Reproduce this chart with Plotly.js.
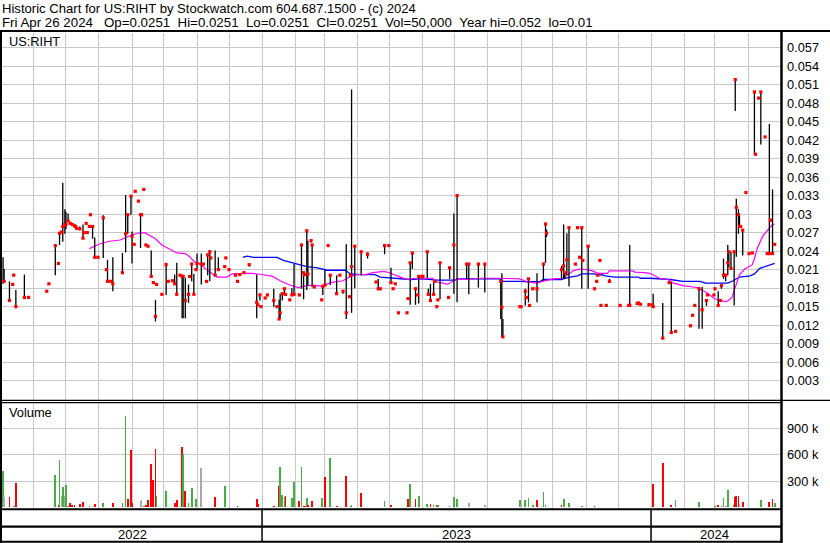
<!DOCTYPE html>
<html><head><meta charset="utf-8">
<script src="https://cdn.plot.ly/plotly-3.0.1.min.js"></script>
<style>html,body{margin:0;padding:0;background:#fff}#chart{width:830px;height:543px}</style>
</head><body><div id="chart"></div>
<script>
// ---- daily data (price in dollars, volume in thousands of shares) ----
const dates=['2022-05-03','2022-05-04','2022-05-09','2022-05-12','2022-05-13','2022-05-15','2022-05-23','2022-05-27','2022-06-13','2022-06-15',
'2022-06-21','2022-06-24','2022-06-25','2022-06-27','2022-06-28','2022-06-30','2022-07-01','2022-07-03','2022-07-05','2022-07-07',
'2022-07-09','2022-07-10','2022-07-11','2022-07-14','2022-07-17','2022-07-18','2022-07-20','2022-07-21','2022-07-23','2022-07-24',
'2022-07-26','2022-07-28','2022-07-31','2022-08-05','2022-08-08','2022-08-09','2022-08-12','2022-08-14','2022-08-23','2022-08-26',
'2022-08-28','2022-08-31','2022-09-01','2022-09-03','2022-09-04','2022-09-07','2022-09-09','2022-09-10','2022-09-12','2022-09-14',
'2022-09-16','2022-09-19','2022-09-21','2022-09-23','2022-09-24','2022-09-29','2022-10-03','2022-10-05','2022-10-09','2022-10-11',
'2022-10-13','2022-10-16','2022-10-18','2022-10-19','2022-10-21','2022-10-24','2022-10-25','2022-10-27','2022-10-29','2022-10-31',
'2022-11-01','2022-11-05','2022-11-07','2022-11-10','2022-11-11','2022-11-13','2022-11-14','2022-11-18','2022-11-21','2022-11-27',
'2022-11-28','2022-12-01','2022-12-07','2022-12-09','2022-12-11','2022-12-15','2022-12-20','2022-12-27','2022-12-28','2022-12-30',
'2022-12-31','2023-01-04','2023-01-06','2023-01-12','2023-01-15','2023-01-17','2023-01-18','2023-01-20','2023-01-22','2023-01-23',
'2023-01-27','2023-01-29','2023-01-31','2023-02-05','2023-02-07','2023-02-09','2023-02-10','2023-02-12','2023-02-13','2023-02-16',
'2023-02-17','2023-02-19','2023-02-26','2023-02-27','2023-03-01','2023-03-04','2023-03-06','2023-03-12','2023-03-15','2023-03-18',
'2023-03-21','2023-03-24','2023-03-25','2023-03-26','2023-03-29','2023-04-04','2023-04-10','2023-04-18','2023-04-20','2023-04-22',
'2023-04-26','2023-04-30','2023-05-02','2023-05-04','2023-05-06','2023-05-09','2023-05-17','2023-05-18','2023-05-20','2023-05-22',
'2023-05-25','2023-05-27','2023-05-28','2023-05-31','2023-06-01','2023-06-05','2023-06-06','2023-06-08','2023-06-11','2023-06-12',
'2023-06-14','2023-06-15','2023-06-17','2023-06-25','2023-06-26','2023-06-30','2023-07-03','2023-07-12','2023-07-14','2023-07-23',
'2023-07-29','2023-08-13','2023-08-14','2023-08-15','2023-08-31','2023-09-01','2023-09-05','2023-09-06','2023-09-08','2023-09-09',
'2023-09-12','2023-09-16','2023-09-22','2023-09-24','2023-09-25','2023-10-09','2023-10-11','2023-10-12','2023-10-14','2023-10-16',
'2023-10-22','2023-10-24','2023-10-26','2023-10-28','2023-10-29','2023-11-03','2023-11-09','2023-11-11','2023-11-12','2023-11-14',
'2023-11-15','2023-11-20','2023-11-23','2023-12-03','2023-12-11','2023-12-12','2023-12-19','2023-12-20','2023-12-22','2023-12-30',
'2024-01-02','2024-01-03','2024-01-12','2024-01-18','2024-01-20','2024-01-24','2024-02-07','2024-02-09','2024-02-11','2024-02-15',
'2024-02-18','2024-02-22','2024-02-23','2024-02-29','2024-03-01','2024-03-04','2024-03-06','2024-03-07','2024-03-09','2024-03-11',
'2024-03-13','2024-03-14','2024-03-16','2024-03-19','2024-03-20','2024-03-21','2024-03-23','2024-03-24','2024-03-25','2024-03-27',
'2024-03-30','2024-04-02','2024-04-05','2024-04-07','2024-04-08','2024-04-11','2024-04-13','2024-04-17','2024-04-19','2024-04-21',
'2024-04-22','2024-04-24','2024-04-26'];

const hi=[.0230,.0211,.0191,null,null,.0177,.0202,null,null,null,
.0250,null,.0271,null,.0351,.0308,.0304,.0301,null,null,
null,null,.0280,.0280,.0283,null,null,null,null,null,
.0280,.0262,null,.0298,null,.0226,null,.0230,.0237,.0331,
.0299,.0331,.0272,null,null,null,.0300,null,null,null,
.0250,.0241,.0191,.0161,null,null,.0221,null,null,.0202,
.0221,null,.0202,.0201,.0197,.0186,null,.0221,.0203,null,
.0236,.0236,null,null,.0234,.0241,null,.0241,.0230,null,
null,null,null,null,null,null,.0219,.0202,null,.0171,
null,null,null,.0179,null,.0161,.0171,.0171,.0179,null,
null,.0180,.0219,null,.0250,.0206,null,.0274,.0257,.0259,
.0251,null,null,.0184,.0210,null,.0201,.0201,null,.0175,
.0251,null,null,.0502,.0248,.0240,.0238,null,.0195,null,
.0249,null,.0213,.0180,null,null,null,null,.0222,.0238,
.0180,null,.0201,null,null,.0239,.0179,.0187,.0191,null,
.0152,null,.0221,null,.0213,.0301,.0330,.0219,.0220,.0220,
.0220,.0191,.0204,.0130,null,null,.0179,null,.0195,null,
null,.0204,.0221,.0285,.0275,.0216,.0283,.0205,.0269,.0278,
null,null,null,.0278,null,.0248,null,null,null,null,
null,null,.0195,null,null,.0250,null,null,null,.0156,
null,.0171,.0156,null,.0190,null,null,null,null,.0182,
.0182,.0160,null,null,null,.0175,null,.0184,.0228,.0202,
.0250,.0239,.0239,.0239,.0518,.0325,.0308,.0297,null,.0274,
null,null,null,.0498,null,null,.0498,null,null,.0446,
null,.0340,null];

const lo=[.0187,.0190,.0160,null,null,.0150,.0165,null,null,null,
.0201,null,.0250,null,.0255,.0268,.0276,.0289,null,null,
null,null,.0275,.0275,.0260,null,null,null,null,null,
.0260,.0229,null,.0229,null,.0190,null,.0175,.0205,.0238,
.0268,.0299,.0220,null,null,null,.0245,null,null,null,
.0246,.0199,.0187,.0126,null,null,.0169,null,null,.0187,
.0170,null,.0131,.0131,.0131,.0156,null,.0191,.0170,null,
.0211,.0186,null,null,.0201,.0191,null,.0201,.0210,null,
null,null,null,null,null,null,.0215,.0131,null,.0160,
null,null,null,.0150,null,.0130,.0131,.0160,.0169,null,
null,.0169,.0169,null,.0179,.0162,null,.0177,.0184,.0254,
.0182,null,null,.0169,.0184,null,.0185,.0171,null,.0171,
.0130,null,null,.0140,.0180,.0201,.0228,null,.0179,null,
.0235,null,.0187,.0178,null,null,null,null,.0153,.0211,
.0153,null,.0155,null,null,.0196,.0168,.0160,.0169,null,
.0149,null,.0162,null,.0195,.0171,.0157,.0195,.0170,.0181,
.0173,.0130,.0101,.0101,null,null,.0152,null,.0157,null,
null,.0157,.0192,.0221,.0263,.0195,.0195,.0195,.0201,.0183,
null,null,null,.0179,null,.0179,null,null,null,null,
null,null,.0189,null,null,.0152,null,null,null,.0152,
null,.0150,.0099,null,.0108,null,null,null,null,.0114,
.0114,.0151,null,null,null,.0152,null,.0179,.0195,.0191,
.0201,.0214,.0211,.0152,.0467,.0231,.0268,.0280,null,.0233,
null,null,null,.0397,null,null,.0413,null,null,.0236,
null,.0236,null];

const cl=[null,.0191,.0160,.0186,.0201,.0150,.0165,.0165,.0175,.0187,
.0249,.0220,.0269,.0271,.0280,.0283,.0283,.0289,.0285,.0283,
.0281,.0280,.0277,.0276,.0261,.0270,.0285,.0270,.0280,.0299,
.0280,.0230,.0230,.0294,.0210,.0191,.0191,.0187,.0205,.0268,
.0299,.0329,.0264,.0251,.0337,.0321,.0299,.0299,.0340,.0250,
.0248,.0199,.0189,.0134,.0186,.0170,.0218,.0191,.0192,.0187,
.0170,.0201,.0199,.0199,.0160,.0170,.0199,.0219,.0170,.0210,
.0220,.0219,.0219,.0191,.0234,.0239,.0229,.0201,.0210,.0215,
.0229,.0210,.0201,.0191,.0202,.0205,.0218,.0157,.0153,.0169,
.0150,.0164,.0169,.0160,.0150,.0130,.0140,.0171,.0179,.0170,
.0161,.0169,.0170,.0169,.0250,.0205,.0202,.0273,.0203,.0257,
.0250,.0182,.0161,.0183,.0185,.0249,.0201,.0171,.0201,.0175,
.0140,.0166,.0201,.0215,.0248,.0239,.0235,.0190,.0179,.0179,
.0249,.0249,.0189,.0179,.0187,.0140,.0140,.0163,.0221,.0237,
.0179,.0169,.0199,.0199,.0199,.0239,.0170,.0160,.0170,.0191,
.0150,.0161,.0221,.0165,.0213,.0250,.0330,.0219,.0219,.0219,
.0219,.0191,.0149,.0101,.0150,.0150,.0175,.0165,.0195,.0152,
.0179,.0179,.0219,.0284,.0269,.0210,.0216,.0205,.0226,.0278,
.0219,.0278,.0230,.0278,.0225,.0248,.0179,.0191,.0201,.0225,
.0152,.0152,.0191,.0152,.0152,.0152,.0155,.0156,.0154,.0153,
.0153,.0150,.0099,.0189,.0108,.0110,.0119,.0136,.0152,.0179,
.0145,.0160,.0169,.0169,.0179,.0152,.0160,.0184,.0201,.0201,
.0221,.0239,.0212,.0239,.0518,.0311,.0299,.0280,.0280,.0274,
.0335,.0236,.0237,.0498,.0397,.0488,.0498,.0425,.0236,.0236,
.0290,.0236,.0251];

const volK=[410,116,116,4,10,277,5,4,6,6,
369,30,537,135,227,128,250,20,48,25,
25,8,8,36,63,8,8,8,20,8,
8,36,8,55,8,8,8,55,55,1050,
90,659,48,8,8,8,67,78,10,32,
78,500,315,663,135,8,181,8,8,48,
78,8,689,605,181,48,8,220,8,100,
8,445,8,8,8,8,8,116,8,239,
8,8,8,10,6,6,6,97,40,6,
6,6,6,20,6,240,458,141,115,134,
6,103,286,76,458,10,10,103,30,6,
69,6,103,6,344,6,561,10,4,4,
363,6,20,30,8,160,4,4,4,4,
76,4,32,4,4,4,4,90,269,4,
97,4,135,4,4,40,8,40,32,8,
32,32,8,4,10,113,90,4,48,4,
21,4,4,4,78,21,86,6,109,6,
32,78,170,29,4,21,97,8,6,55,
6,6,6,10,4,4,10,6,4,4,
4,4,4,4,4,4,4,4,4,4,
4,269,506,4,29,78,4,6,4,59,
4,6,6,6,10,21,8,10,105,10,
193,8,8,30,116,135,135,40,8,59,
8,8,8,8,8,8,78,8,8,59,
8,90,50];

// day direction as shown by volume colour: 1 up, -1 down, 0 unchanged
const dir=[1,0,-1,1,1,-1,1,0,1,1,
1,-1,1,0,1,0,1,1,-1,-1,
-1,-1,-1,-1,-1,1,1,-1,1,1,
-1,-1,0,1,-1,-1,0,-1,1,1,
-1,-1,-1,-1,1,-1,0,0,1,-1,
-1,-1,-1,-1,1,0,1,-1,-1,-1,
-1,1,-1,1,-1,1,1,1,-1,1,
1,0,0,-1,1,1,-1,-1,1,1,
1,0,-1,-1,1,1,1,-1,-1,-1,
-1,1,1,-1,-1,-1,1,1,1,-1,
-1,1,1,-1,1,-1,-1,1,-1,1,
-1,-1,1,1,-1,1,1,-1,1,-1,
-1,1,1,1,1,-1,-1,-1,-1,0,
1,0,-1,1,1,-1,1,-1,1,1,
-1,-1,1,-1,-1,1,-1,-1,1,-1,
-1,1,1,-1,1,1,1,-1,0,0,
0,-1,-1,-1,1,0,1,-1,1,-1,
1,-1,1,1,-1,-1,1,-1,1,1,
-1,1,-1,1,-1,1,-1,1,-1,-1,
-1,0,1,-1,0,0,1,1,-1,1,
0,-1,-1,1,-1,1,1,1,1,1,
-1,1,1,1,1,-1,1,1,1,0,
1,1,-1,1,-1,-1,-1,0,0,-1,
1,-1,1,1,-1,1,1,-1,-1,-1,
1,-1,1];

// moving averages
const maFastDates=['2022-07-23','2022-07-28','2022-08-02','2022-08-11','2022-08-21','2022-08-30','2022-09-06','2022-09-13','2022-09-18','2022-09-23',
'2022-09-29','2022-10-07','2022-10-13','2022-10-21','2022-10-25','2022-10-30','2022-11-04','2022-11-10','2022-11-16','2022-11-20',
'2022-11-29','2022-12-04','2022-12-14','2022-12-23','2022-12-30','2023-01-11','2023-01-18','2023-01-27','2023-02-04','2023-02-12',
'2023-02-18','2023-02-27','2023-03-06','2023-03-18','2023-03-25','2023-03-31','2023-04-08','2023-04-15','2023-04-25','2023-05-01',
'2023-05-06','2023-05-10','2023-05-15','2023-05-20','2023-05-23','2023-05-29','2023-06-05','2023-06-10','2023-06-14','2023-06-20',
'2023-06-24','2023-06-29','2023-07-03','2023-07-12','2023-07-26','2023-08-12','2023-08-31','2023-09-07','2023-09-16','2023-09-21',
'2023-10-01','2023-10-10','2023-10-14','2023-10-20','2023-10-26','2023-11-02','2023-11-07','2023-11-12','2023-11-21','2023-11-23',
'2023-12-15','2023-12-17','2023-12-26','2023-12-31','2024-01-09','2024-01-17','2024-01-22','2024-01-31','2024-02-13','2024-02-22',
'2024-02-28','2024-03-04','2024-03-12','2024-03-17','2024-03-19','2024-03-22','2024-03-24','2024-03-29','2024-04-05','2024-04-07',
'2024-04-10','2024-04-15','2024-04-20','2024-04-24','2024-04-26'];
const maFast=[.0244,.0248,.0252,.0256,.0258,.0265,.0269,.0270,.0265,.0260,
.0250,.0242,.0237,.0236,.0231,.0222,.0219,.0210,.0202,.0198,
.0198,.0203,.0204,.0204,.02025,.0199,.0192,.0185,.0181,.0184,
.0185,.0183,.0189,.0192,.0199,.0202,.0202,.0205,.0207,.0205,
.0201,.0198,.0195,.0194,.0196,.0194,.0196,.0196,.0190,.0188,
.0186,.0191,.0195,.0194,.0196,.0196,.0195,.0190,.0188,.0191,
.0195,.0196,.0201,.0208,.0211,.0210,.0208,.0204,.0204,.0208,
.0208,.0206,.0205,.0204,.0196,.0194,.0188,.0184,.0181,.0173,
.0165,.0160,.0158,.0165,.0176,.0190,.0202,.0211,.0218,.0228,
.0246,.0265,.0276,.0283,.0284];
const maSlowDates=['2022-12-14','2022-12-18','2022-12-24','2022-12-30','2023-01-15','2023-01-21','2023-01-30','2023-02-12','2023-02-22','2023-03-03',
'2023-03-20','2023-03-25','2023-04-03','2023-04-17','2023-04-22','2023-05-01','2023-05-20','2023-06-01','2023-06-14','2023-07-01',
'2023-07-03','2023-08-12','2023-08-15','2023-08-31','2023-09-07','2023-09-19','2023-09-22','2023-10-09','2023-10-12','2023-10-17',
'2023-10-24','2023-10-28','2023-11-09','2023-11-12','2023-11-16','2023-11-19','2023-11-28','2023-12-20','2023-12-22','2023-12-31',
'2024-01-19','2024-01-31','2024-02-16','2024-02-21','2024-03-13','2024-03-18','2024-03-24','2024-04-03','2024-04-07','2024-04-12',
'2024-04-19','2024-04-24','2024-04-26'];
const maSlow=[.0230,.0232,.0230,.0230,.0230,.0225,.0221,.0215,.0213,.0209,
.0209,.0203,.0202,.0202,.0198,.01965,.0194,.0195,.0193,.0193,
.0195,.0195,.0191,.0191,.0190,.0191,.0194,.0194,.0196,.0198,
.0200,.0203,.0203,.0201,.0202,.0200,.0198,.0198,.0196,.0196,
.0194,.0191,.0191,.0188,.0188,.0192,.0198,.0200,.0203,.0212,
.0216,.0219,.0220];

const priceTicks=[0.003,0.006,0.009,0.012,0.015,0.018,0.021,0.024,0.027,0.030,0.033,0.036,0.039,0.042,0.045,0.048,0.051,0.054,0.057];
const priceTickText=['0.003','0.006','0.009','0.012','0.015','0.018','0.021','0.024','0.027','0.03','0.033','0.036','0.039','0.042','0.045','0.048','0.051','0.054','0.057'];
const volTicks=[300,600,900];
const volTickText=['300 k','600 k','900 k'];
const years=['2022','2023','2024'];
const header1='Historic Chart for US:RIHT by Stockwatch.com 604.687.1500 - (c) 2024';
const header2='Fri Apr 26 2024\u00a0\u00a0\u00a0Op=0.0251\u00a0\u00a0Hi=0.0251\u00a0\u00a0Lo=0.0251\u00a0\u00a0Cl=0.0251\u00a0\u00a0Vol=50,000\u00a0\u00a0Year hi=0.052\u00a0\u00a0lo=0.01';
const symbolLabel='US:RIHT';
const volumeLabel='Volume';
const xStart='2022-05-02', xEnd='2024-05-01';

// ---- geometry helpers (pixel -> paper) ----
const W=830,H=543;
const px=x=>x/W, py=y=>1-y/H;
const FONT='"Liberation Sans", Arial, sans-serif';
const GRID='#c8c8c8';

// high-low bars
const bx=[],by=[];
dates.forEach((d,i)=>{ if(hi[i]!=null){ bx.push(d,d,null); by.push(hi[i],lo[i],null);} });

const colorMap={'1':'#44b044','-1':'#ff0000','0':'#a8a8a8'};
const volColors=dir.map(v=>colorMap[String(v)]);

const traces=[
 {type:'scatter',mode:'lines',x:maSlowDates,y:maSlow,line:{color:'#0000ff',width:1.3},xaxis:'x',yaxis:'y',hoverinfo:'skip'},
 {type:'scatter',mode:'lines',x:maFastDates,y:maFast,line:{color:'#ff00ff',width:1.2},xaxis:'x',yaxis:'y',hoverinfo:'skip'},
 {type:'scatter',mode:'lines',x:bx,y:by,line:{color:'#000000',width:1.3},connectgaps:false,xaxis:'x',yaxis:'y',hoverinfo:'skip'},
 {type:'scatter',mode:'markers',x:dates,y:cl,marker:{symbol:'square',size:3.2,color:'#ff0000',line:{width:0}},xaxis:'x',yaxis:'y',hoverinfo:'skip'},
 {type:'bar',x:dates,y:volK,marker:{color:volColors,line:{width:0}},width:86400000*1.6,xaxis:'x2',yaxis:'y2',hoverinfo:'skip'}
];

const t0=new Date(xStart+'T00:00:00Z').getTime(), t1=new Date(xEnd+'T00:00:00Z').getTime();
const annotations=[
 {text:header1,x:px(0),y:py(8.5),xref:'paper',yref:'paper',xanchor:'left',yanchor:'middle',showarrow:false,font:{family:FONT,size:13.1,color:'#000'}},
 {text:header2,x:px(0),y:py(22.5),xref:'paper',yref:'paper',xanchor:'left',yanchor:'middle',showarrow:false,font:{family:FONT,size:13.3,color:'#000'}},
 {text:symbolLabel,x:px(7),y:py(41),xref:'paper',yref:'paper',xanchor:'left',yanchor:'middle',showarrow:false,font:{family:FONT,size:12.8,color:'#000'}},
 {text:volumeLabel,x:px(7),y:py(413),xref:'paper',yref:'paper',xanchor:'left',yanchor:'middle',showarrow:false,font:{family:FONT,size:12.8,color:'#000'}}
];

const shapes=[
 {type:'line',xref:'paper',yref:'paper',x0:0,x1:1,y0:py(31),y1:py(31),line:{color:'#000',width:2}},
 {type:'line',xref:'paper',yref:'paper',x0:px(1),x1:px(1),y0:py(31),y1:0,line:{color:'#000',width:2}},
 {type:'line',xref:'paper',yref:'paper',x0:px(781.5),x1:px(781.5),y0:py(31),y1:0,line:{color:'#000',width:2.5}},
 {type:'line',xref:'paper',yref:'paper',x0:0,x1:1,y0:py(400.3),y1:py(400.3),line:{color:'#000',width:1.2}},
 {type:'line',xref:'paper',yref:'paper',x0:0,x1:px(781),y0:py(402.6),y1:py(402.6),line:{color:'#000',width:1.2}},
 {type:'line',xref:'paper',yref:'paper',x0:0,x1:px(781),y0:py(509.3),y1:py(509.3),line:{color:'#000',width:2}},
 {type:'line',xref:'paper',yref:'paper',x0:0,x1:px(781),y0:py(526.7),y1:py(526.7),line:{color:'#000',width:2.2}},
 {type:'line',xref:'paper',yref:'paper',x0:0,x1:px(781),y0:py(541.8),y1:py(541.8),line:{color:'#000',width:2}}
];
years.forEach(y=>{
 const a=Math.max(t0,Date.UTC(+y,0,1)), b=Math.min(t1,Date.UTC(+y+1,0,1));
 if(Date.UTC(+y,0,1)>t0) shapes.push({type:'line',xref:'x',yref:'paper',x0:y+'-01-01',x1:y+'-01-01',y0:py(509),y1:py(542),line:{color:'#000',width:1.5}});
 annotations.push({text:y,x:new Date((a+b)/2).toISOString().slice(0,10),xref:'x',y:py(534.5),yref:'paper',xanchor:'center',yanchor:'middle',showarrow:false,font:{family:FONT,size:13,color:'#000'}});
});

const xCommon={type:'date',range:[xStart,xEnd],domain:[px(2),px(780)],showgrid:true,gridcolor:GRID,gridwidth:1,
 dtick:'M1',tick0:'2022-06-01',showticklabels:false,ticks:'',zeroline:false,showline:false,fixedrange:true};

const layout={
 width:W,height:H,margin:{l:0,r:0,t:0,b:0,pad:0},paper_bgcolor:'#fff',plot_bgcolor:'#fff',showlegend:false,
 font:{family:FONT,size:12.6,color:'#000'},bargap:0,
 xaxis:Object.assign({},xCommon,{anchor:'y'}),
 xaxis2:Object.assign({},xCommon,{anchor:'y2',matches:'x'}),
 yaxis:{domain:[py(400),py(33)],range:[(399.2-400)/6170,(399.2-33)/6170],side:'right',anchor:'x',
  tickmode:'array',tickvals:priceTicks,ticktext:priceTickText,showgrid:true,gridcolor:GRID,gridwidth:1,
  ticks:'',ticklabelstandoff:6,zeroline:false,showline:false,tickfont:{family:FONT,size:12.8,color:'#000'}},
 yaxis2:{domain:[py(509),py(402)],range:[(507.3-509)/26.2*300,(507.3-402)/26.2*300],side:'right',anchor:'x2',
  tickmode:'array',tickvals:volTicks,ticktext:volTickText,showgrid:true,gridcolor:GRID,gridwidth:1,
  ticks:'',ticklabelstandoff:6,zeroline:false,showline:false,tickfont:{family:FONT,size:12.8,color:'#000'}},
 shapes:shapes,annotations:annotations
};
Plotly.newPlot('chart',traces,layout,{staticPlot:true,displayModeBar:false});
</script>
</body></html>
